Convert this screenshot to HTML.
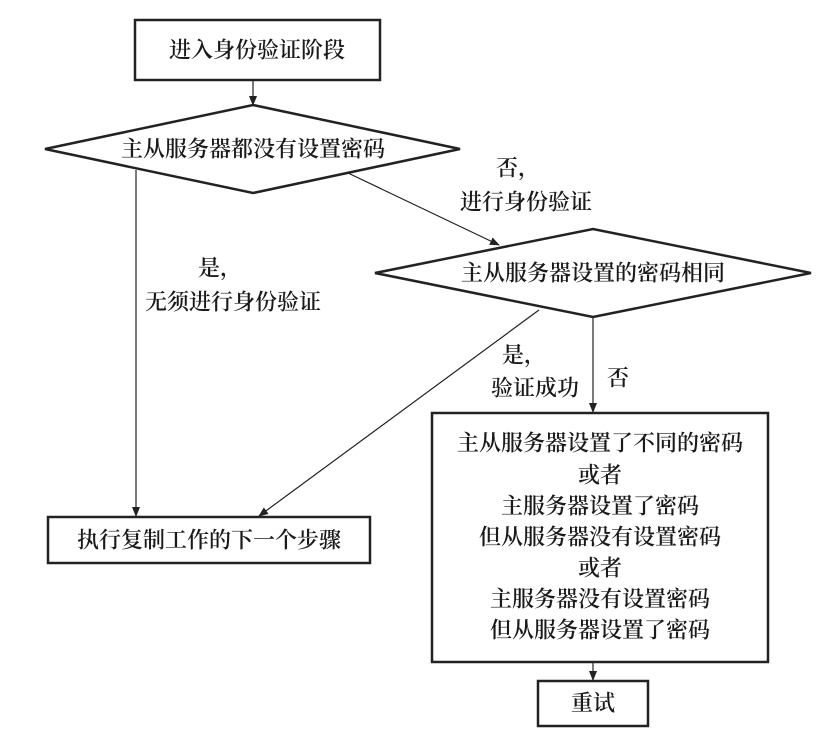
<!DOCTYPE html>
<html><head><meta charset="utf-8"><style>
body{margin:0;background:#fff;}
svg text{font-family:"Liberation Serif","Noto Serif CJK SC",serif;font-size:22px;fill:#1a1a1a;text-anchor:middle;dominant-baseline:central;font-weight:600;}
</style></head><body>
<svg width="822" height="740" viewBox="0 0 822 740" xmlns="http://www.w3.org/2000/svg">
<defs><marker id="a" markerWidth="10" markerHeight="10" refX="9" refY="5" orient="auto" markerUnits="userSpaceOnUse"><path d="M0,1 L10,5 L0,9 Z" fill="#222"/></marker></defs>
<g stroke="#222" fill="none">
<rect x="135" y="20" width="245" height="60" stroke-width="2.5"/>
<polygon points="45,149 253,105 460,149 253,193" stroke-width="2.5"/>
<polygon points="375,273 593,229 811,273 593,317" stroke-width="2.5"/>
<rect x="48" y="517" width="322" height="46" stroke-width="2.5"/>
<rect x="432" y="413" width="336" height="249" stroke-width="2.5"/>
<rect x="538" y="681" width="110" height="45" stroke-width="2.5"/>
<g stroke-width="1.2" marker-end="url(#a)">
<line x1="253" y1="80" x2="253" y2="105"/>
<line x1="348" y1="173" x2="499" y2="245"/>
<line x1="136" y1="170" x2="136" y2="516"/>
<line x1="539" y1="310" x2="259" y2="516"/>
<line x1="593" y1="317" x2="593" y2="412"/>
<line x1="593" y1="662" x2="593" y2="680"/>
</g></g>
<text x="257" y="50">进入身份验证阶段</text>
<text x="253" y="149">主从服务器都没有设置密码</text>
<text x="593" y="273">主从服务器设置的密码相同</text>
<text x="518" y="168">否，</text>
<text x="526" y="202">进行身份验证</text>
<text x="220" y="268">是，</text>
<text x="233" y="302">无须进行身份验证</text>
<text x="524" y="355">是，</text>
<text x="535" y="388">验证成功</text>
<text x="618" y="378">否</text>
<text x="209" y="540">执行复制工作的下一个步骤</text>
<text x="600" y="443">主从服务器设置了不同的密码</text>
<text x="600" y="475">或者</text>
<text x="600" y="506">主服务器设置了密码</text>
<text x="600" y="537">但从服务器没有设置密码</text>
<text x="600" y="568">或者</text>
<text x="600" y="599">主服务器没有设置密码</text>
<text x="600" y="630">但从服务器设置了密码</text>
<text x="593" y="703">重试</text>
</svg>
</body></html>
